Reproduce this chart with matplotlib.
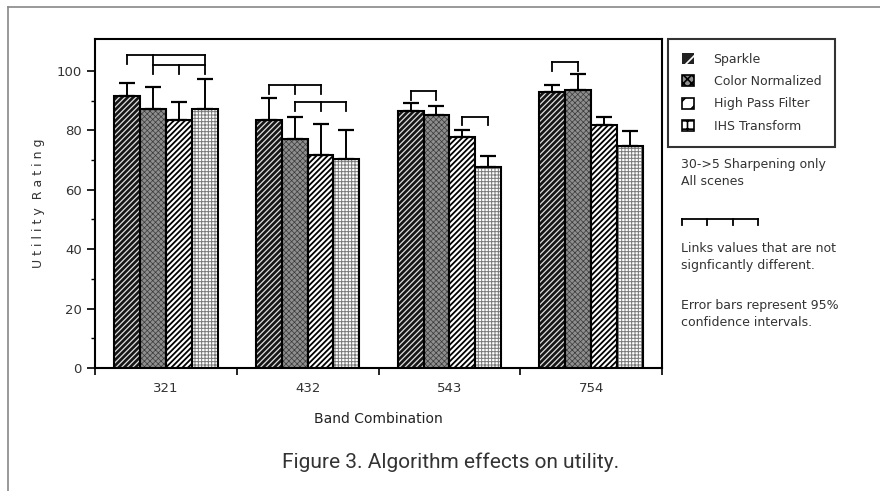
import numpy as np
import matplotlib
matplotlib.use("Agg")
import matplotlib.pyplot as plt
from matplotlib.patches import Patch
from matplotlib.lines import Line2D

# band combinations and algorithm results (utility rating, upper 95% CI)
bands = ["321", "432", "543", "754"]
algorithms = ["Sparkle", "Color Normalized", "High Pass Filter", "IHS Transform"]
sparkle = [91.4, 83.6, 86.6, 93.0]
color_norm = [87.1, 76.9, 85.1, 93.5]
high_pass = [83.4, 71.8, 77.6, 81.8]
ihs = [87.1, 70.3, 67.6, 74.6]
sparkle_err = [4.4, 7.2, 2.5, 2.3]
color_norm_err = [7.3, 7.7, 3.2, 5.4]
high_pass_err = [6.2, 10.3, 2.6, 2.6]
ihs_err = [10.3, 9.9, 3.7, 5.3]

# links between bars that are not significantly different: (band, bars, height)
link_band = [0, 0, 1, 1, 2, 2, 3]
link_bars = [(0, 1, 3), (1, 2, 3), (0, 1, 2), (1, 2, 3), (0, 1), (2, 3), (0, 1)]
link_height = [105.4, 102.0, 95.3, 89.4, 93.3, 84.6, 103.0]

values = [sparkle, color_norm, high_pass, ihs]
errors = [sparkle_err, color_norm_err, high_pass_err, ihs_err]

# look of each series: face, hatch colour, hatch, hatch linewidth
styles = [
    ("#161616", "#e0e0e0", "//////", 0.9),
    ("#8e8e8e", "#3a3a3a", "xxxxxx", 0.5),
    ("white", "black", "//////", 1.3),
    ("white", "#7a7a7a", "+++++", 0.7),
]

W, H = 880, 491
fig = plt.figure(figsize=(W / 100, H / 100), dpi=100)
plt.rcParams["font.family"] = ["DejaVu Sans"]

ax = fig.add_axes([95 / W, 1 - 368 / H, (662 - 95) / W, (368 - 39) / H])

x = np.arange(len(bands)) + 0.5
width = 0.1825
offsets = (np.arange(4) - 1.5) * width

handles = []
for i, (vals, errs, st) in enumerate(zip(values, errors, styles)):
    face, hcol, hatch, hlw = st
    plt.rcParams["hatch.linewidth"] = hlw
    pos = x + offsets[i]
    ax.bar(pos, vals, width, color=face, edgecolor=hcol, hatch=hatch, linewidth=0, zorder=2)
    ax.bar(pos, vals, width, fill=False, edgecolor="black", linewidth=1.5, zorder=3)
    ax.errorbar(pos, vals, yerr=[np.zeros(len(vals)), errs], fmt="none",
                ecolor="black", elinewidth=1.4, capsize=6, capthick=1.6, zorder=4)
    plt.rcParams["hatch.linewidth"] = 1.2
    handles.append(Patch(facecolor="#222" if i == 0 else face,
                         edgecolor="white" if i == 0 else "black",
                         hatch="//" if i in (0, 2) else ("xxxx" if i == 1 else "++"),
                         linewidth=0 if i == 0 else 1.2))

# significance links
drop = 3.0
for band, bars, h in zip(link_band, link_bars, link_height):
    bx = [x[band] + offsets[b] for b in bars]
    ax.plot([bx[0], bx[-1]], [h, h], color="black", lw=1.3, zorder=5)
    for xx in bx:
        ax.plot([xx, xx], [h, h - drop], color="black", lw=1.3, zorder=5)

ax.set_xlim(0, 4)
ax.set_ylim(0, 110.7)
ax.set_xticks([0, 1, 2, 3, 4])
ax.set_xticklabels([])
ax.set_xticks(x, minor=True)
ax.set_xticklabels(bands, minor=True)
ax.tick_params(axis="x", which="major", direction="out", length=5, width=1.2)
ax.tick_params(axis="x", which="minor", length=0, pad=10, labelsize=9.5, labelcolor="#333")
ax.set_yticks(np.arange(0, 101, 20))
ax.set_yticks(np.arange(10, 101, 20), minor=True)
ax.tick_params(axis="y", which="major", direction="out", length=6, width=1.2,
               labelsize=9.5, labelcolor="#333")
ax.tick_params(axis="y", which="minor", direction="out", length=3, width=1.0)
for s in ax.spines.values():
    s.set_linewidth(1.5)

ax.set_ylabel("U t i l i t y  R a t i n g", fontsize=9,
              color="#333", labelpad=8)
ax.set_xlabel("Band Combination", fontsize=10, color="#222", labelpad=12)

# legend box
leg = fig.legend(handles, algorithms, loc="upper left",
                 bbox_to_anchor=(668 / W, 1 - 39 / H), fontsize=9,
                 frameon=True, fancybox=False, edgecolor="black",
                 handlelength=0.95, handleheight=0.95, handletextpad=1.6,
                 labelspacing=0.75, borderpad=1.1, borderaxespad=0)
leg.get_frame().set_linewidth(1.5)
for t in leg.get_texts():
    t.set_color("#333")

# notes on the right
tx = 681 / W
fig.text(tx, 1 - 173 / H, "30->5 Sharpening only\nAll scenes", fontsize=9,
         color="#333", va="center", linespacing=1.45)
ly = 1 - 219 / H
bx_note = [682, 707, 733, 758]
fig.add_artist(Line2D([bx_note[0] / W, bx_note[-1] / W], [ly, ly], color="black", lw=1.3))
for xx in bx_note:
    fig.add_artist(Line2D([xx / W, xx / W], [ly, ly - 6 / H], color="black", lw=1.3))
fig.text(tx, 1 - 257 / H, "Links values that are not\nsignficantly different.", fontsize=9,
         color="#333", va="center", linespacing=1.45)
fig.text(tx, 1 - 314 / H, "Error bars represent 95%\nconfidence intervals.", fontsize=9,
         color="#333", va="center", linespacing=1.45)

# caption and page frame
fig.text(451 / W, 1 - 462 / H, "Figure 3. Algorithm effects on utility.",
         fontsize=15, color="#333", ha="center", va="center",
         family=["Liberation Sans Narrow", "Roboto", "DejaVu Sans"])
fig.add_artist(Line2D([8 / W, 1], [1 - 7 / H, 1 - 7 / H], color="#888", lw=1.2))
fig.add_artist(Line2D([8 / W, 8 / W], [0, 1 - 7 / H], color="#888", lw=1.2))

fig.savefig("out.png", dpi=100)
